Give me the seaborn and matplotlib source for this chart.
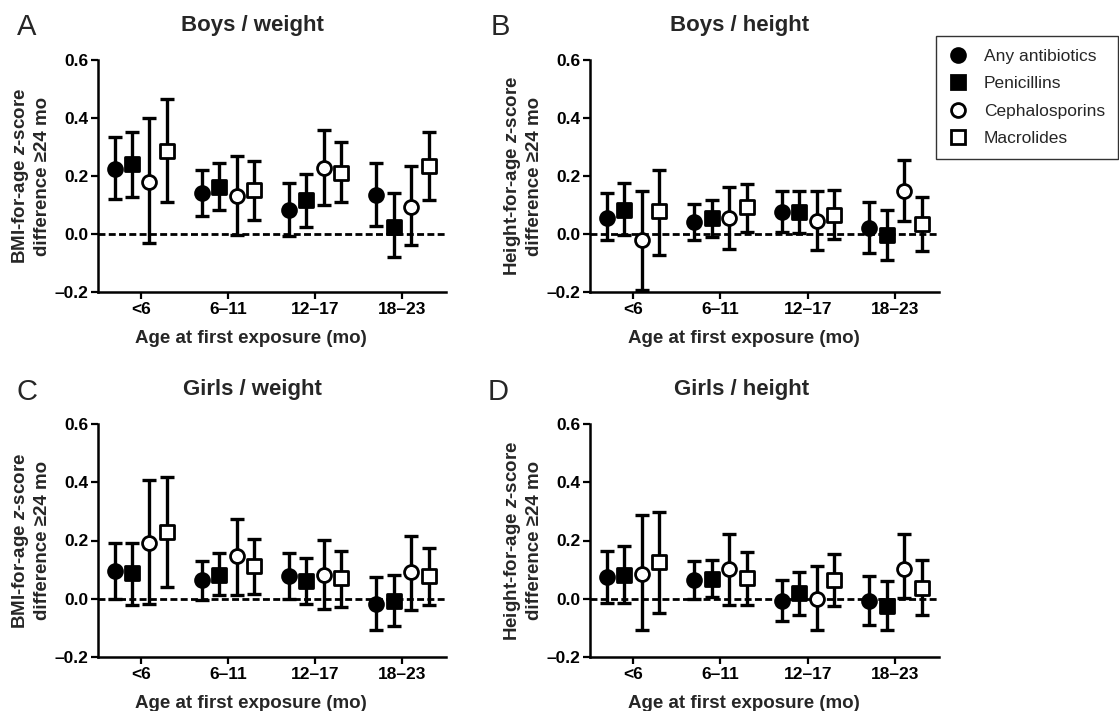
import matplotlib
matplotlib.use("Agg")
import matplotlib.pyplot as plt
from matplotlib.lines import Line2D
import numpy as np
import seaborn as sns

# === Data ===
ages = ["<6", "6\u201311", "12\u201317", "18\u201323"]
drugs = ["Any antibiotics", "Penicillins", "Cephalosporins", "Macrolides"]

# rows = drugs, columns = age groups
boys_weight_est = [[0.225, 0.140, 0.083, 0.134],
                   [0.242, 0.161, 0.116, 0.023],
                   [0.181, 0.130, 0.227, 0.094],
                   [0.285, 0.150, 0.211, 0.235]]
boys_weight_lo = [[0.122, 0.061, -0.007, 0.029],
                  [0.126, 0.082, 0.025, -0.080],
                  [-0.030, -0.003, 0.101, -0.039],
                  [0.109, 0.048, 0.110, 0.118]]
boys_weight_hi = [[0.334, 0.222, 0.175, 0.245],
                  [0.352, 0.245, 0.208, 0.141],
                  [0.400, 0.270, 0.358, 0.236],
                  [0.465, 0.251, 0.317, 0.351]]

boys_height_est = [[0.055, 0.040, 0.077, 0.021],
                   [0.084, 0.055, 0.077, -0.002],
                   [-0.020, 0.055, 0.044, 0.149],
                   [0.078, 0.093, 0.067, 0.036]]
boys_height_lo = [[-0.022, -0.022, 0.007, -0.065],
                  [-0.002, -0.010, 0.003, -0.088],
                  [-0.192, -0.052, -0.056, 0.044],
                  [-0.071, 0.007, -0.016, -0.060]]
boys_height_hi = [[0.141, 0.102, 0.147, 0.109],
                  [0.175, 0.118, 0.147, 0.084],
                  [0.149, 0.161, 0.147, 0.255],
                  [0.222, 0.172, 0.150, 0.126]]

girls_weight_est = [[0.094, 0.063, 0.079, -0.017],
                    [0.088, 0.083, 0.060, -0.009],
                    [0.192, 0.146, 0.083, 0.091],
                    [0.228, 0.111, 0.071, 0.077]]
girls_weight_lo = [[0.000, -0.003, 0.000, -0.107],
                   [-0.023, 0.014, -0.018, -0.095],
                   [-0.018, 0.014, -0.036, -0.038],
                   [0.042, 0.016, -0.029, -0.023]]
girls_weight_hi = [[0.192, 0.131, 0.157, 0.075],
                   [0.192, 0.157, 0.140, 0.083],
                   [0.407, 0.275, 0.203, 0.214],
                   [0.419, 0.206, 0.163, 0.174]]

girls_height_est = [[0.075, 0.065, -0.007, -0.009],
                    [0.080, 0.069, 0.019, -0.026],
                    [0.086, 0.102, 0.000, 0.103],
                    [0.125, 0.071, 0.063, 0.037]]
girls_height_lo = [[-0.013, 0.000, -0.078, -0.089],
                   [-0.013, 0.005, -0.055, -0.107],
                   [-0.107, -0.021, -0.107, 0.002],
                   [-0.049, -0.021, -0.026, -0.055]]
girls_height_hi = [[0.163, 0.128, 0.065, 0.077],
                   [0.182, 0.134, 0.091, 0.060],
                   [0.286, 0.224, 0.114, 0.224],
                   [0.297, 0.159, 0.154, 0.134]]

panel_titles = ["Boys / weight", "Boys / height", "Girls / weight", "Girls / height"]
panel_letters = ["A", "B", "C", "D"]
y_labels = ["BMI-for-age $z$-score\ndifference \u226524 mo",
            "Height-for-age $z$-score\ndifference \u226524 mo",
            "BMI-for-age $z$-score\ndifference \u226524 mo",
            "Height-for-age $z$-score\ndifference \u226524 mo"]

# marker style per drug
drug_markers = ["o", "s", "o", "s"]
drug_filled = [True, True, False, False]
drug_offsets = [-0.3, -0.1, 0.1, 0.3]

# === Style ===
sns.set_theme(style="ticks")
plt.rcParams["font.family"] = ["Liberation Sans", "DejaVu Sans"]
plt.rcParams["mathtext.fontset"] = "custom"
plt.rcParams["mathtext.rm"] = "Liberation Sans:bold"
plt.rcParams["mathtext.it"] = "Liberation Sans:italic:bold"
plt.rcParams["axes.unicode_minus"] = False

W, H = 1119, 711
fig = plt.figure(figsize=(W / 100, H / 100), dpi=100)


def px_axes(left, top, right, bottom):
    return fig.add_axes([left / W, 1 - bottom / H, (right - left) / W, (bottom - top) / H])


axes_px = [(98, 60, 446, 292), (590, 60, 939, 292),
           (98, 424, 446, 657), (590, 424, 939, 657)]
title_pos = [(252, 25), (740, 25), (252, 390), (742, 390)]
letter_pos = [(27, 27), (500, 27), (27, 392), (498, 392)]

panel_data = [
    (boys_weight_est, boys_weight_lo, boys_weight_hi),
    (boys_height_est, boys_height_lo, boys_height_hi),
    (girls_weight_est, girls_weight_lo, girls_weight_hi),
    (girls_height_est, girls_height_lo, girls_height_hi),
]

x_base = np.arange(len(ages))

for i, (est, lo, hi) in enumerate(panel_data):
    ax = px_axes(*axes_px[i])
    ax.axhline(0, color="black", lw=2.0, ls=(0, (2.5, 1.2)), zorder=1)
    for d in range(len(drugs)):
        x = x_base + drug_offsets[d]
        e = np.array(est[d])
        yerr = np.vstack([e - np.array(lo[d]), np.array(hi[d]) - e])
        ax.errorbar(x, e, yerr=yerr, fmt="none", ecolor="black",
                    elinewidth=2.4, capsize=5, capthick=2.4, zorder=2, clip_on=False)
        sns.scatterplot(x=x, y=e, ax=ax, marker=drug_markers[d], s=100,
                        color="black" if drug_filled[d] else "white",
                        edgecolor="black", linewidth=2.0, zorder=3, clip_on=False,
                        legend=False)
    ax.set_ylim(-0.2, 0.6)
    ax.set_yticks([0.6, 0.4, 0.2, 0.0, -0.2])
    ax.set_yticklabels(["0.6", "0.4", "0.2", "0.0", "\u20130.2"])
    ax.set_xlim(-0.49, 3.5)
    ax.set_xticks(x_base)
    ax.set_xticklabels(ages)
    for lab in ax.get_xticklabels() + ax.get_yticklabels():
        lab.set_fontweight("bold")
        lab.set_fontsize(12.5)
    ax.tick_params(direction="out", length=5, width=1.6, colors="black", pad=2)
    sns.despine(ax=ax)
    for s in ("left", "bottom"):
        ax.spines[s].set_linewidth(1.8)
        ax.spines[s].set_color("black")
    ax.set_facecolor("white")
    ax.grid(False)
    ax.set_xlabel("Age at first exposure (mo)", fontsize=13.5, fontweight="bold")
    ax.xaxis.set_label_coords(0.44, -0.165)
    ax.set_ylabel(y_labels[i], fontsize=13.5, fontweight="bold", linespacing=1.2)
    ax.yaxis.set_label_coords(-0.135, 0.5)

    tx, ty = title_pos[i]
    fig.text(tx / W, 1 - ty / H, panel_titles[i], ha="center", va="center",
             fontsize=16, fontweight="bold")
    lx, ly = letter_pos[i]
    fig.text(lx / W, 1 - ly / H, panel_letters[i], ha="center", va="center",
             fontsize=21)

# === Legend ===
handles = [Line2D([], [], ls="none", marker=drug_markers[d], markersize=10,
                  markerfacecolor="black" if drug_filled[d] else "white",
                  markeredgecolor="black", markeredgewidth=2.0)
           for d in range(len(drugs))]
leg = fig.legend(handles, drugs, loc="upper left",
                 bbox_to_anchor=(936 / W, 1 - 36 / H), frameon=True, fancybox=False,
                 edgecolor="black", fontsize=12.5, borderaxespad=0, handletextpad=1.0,
                 labelspacing=0.7, borderpad=0.75, handlelength=1.0)
leg.get_frame().set_linewidth(1.0)

fig.savefig("out.png", dpi=100, facecolor="white")
